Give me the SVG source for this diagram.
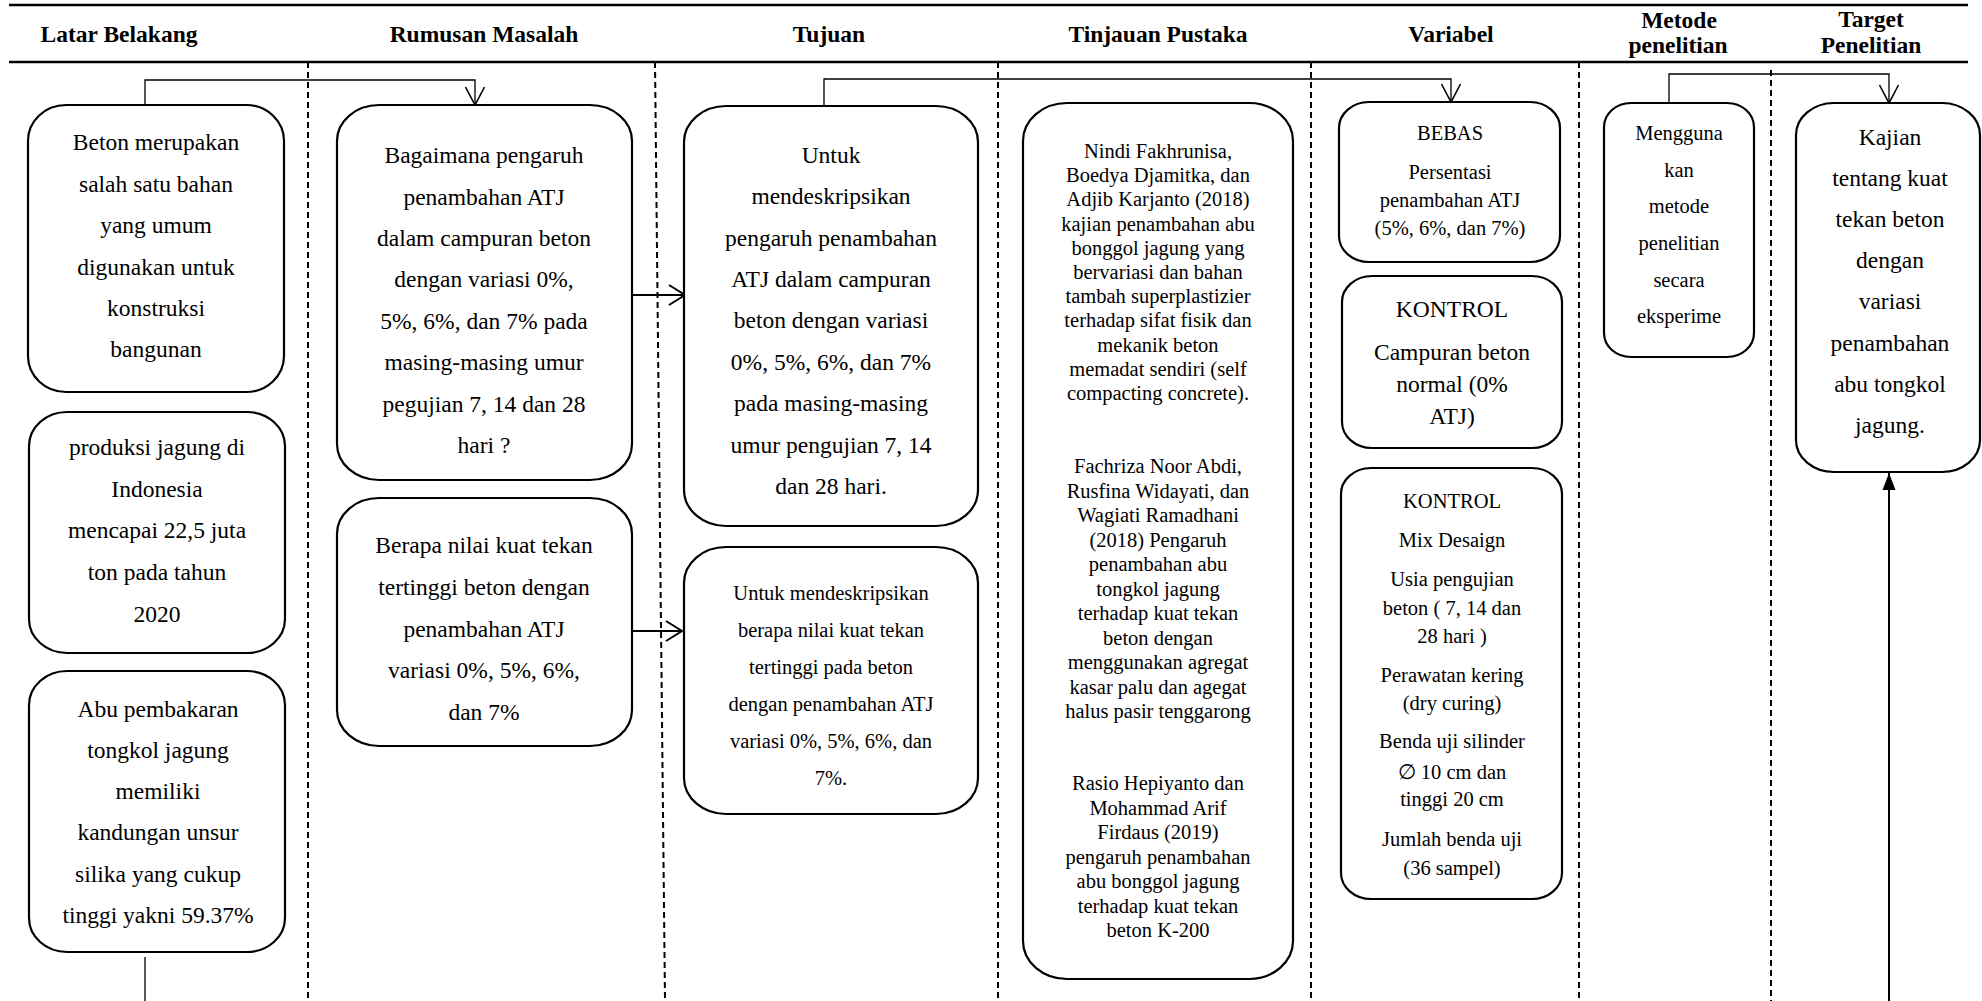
<svg xmlns="http://www.w3.org/2000/svg" width="1982" height="1001" viewBox="0 0 1982 1001">
<style>
text{font-family:"Liberation Serif","Times New Roman",serif;fill:#000;text-anchor:middle}
.h{font-size:23.5px;font-weight:bold}
.t{font-size:23.5px}
.s{font-size:20.5px}
.box{fill:#fff;stroke:#000;stroke-width:2.2}
.rule{stroke:#000;stroke-width:2.6;fill:none}
.dash{stroke:#000;stroke-width:2;stroke-dasharray:6 4;fill:none}
.thin{stroke:#000;stroke-width:1.3;fill:none}
.med{stroke:#000;stroke-width:2;fill:none}
</style>
<defs>
<marker id="vd" markerUnits="userSpaceOnUse" markerWidth="20" markerHeight="22" refX="18" refY="10" orient="auto" overflow="visible">
<path d="M0,0.5 L18,10 L0,19.5" fill="none" stroke="#000" stroke-width="1.6"/>
</marker>
<marker id="vs" markerUnits="userSpaceOnUse" markerWidth="20" markerHeight="22" refX="16" refY="10" orient="auto" overflow="visible">
<path d="M0,0 L16,10 L0,20" fill="none" stroke="#000" stroke-width="2"/>
</marker>
<marker id="fill" markerUnits="userSpaceOnUse" markerWidth="18" markerHeight="14" refX="17" refY="6.5" orient="auto" overflow="visible">
<path d="M0,0 L17,6.5 L0,13 Z" fill="#000"/>
</marker>
</defs>

<g id="header">
<line class="rule" x1="9" y1="5" x2="1968" y2="5"/>
<line class="rule" x1="9" y1="62" x2="1968" y2="62"/>
<text class="h" x="119" y="42">Latar Belakang</text>
<text class="h" x="484" y="42">Rumusan Masalah</text>
<text class="h" x="829" y="42">Tujuan</text>
<text class="h" x="1158" y="42">Tinjauan Pustaka</text>
<text class="h" x="1451" y="42">Variabel</text>
<text class="h" x="1679" y="28">Metode</text>
<text class="h" x="1678" y="53">penelitian</text>
<text class="h" x="1871" y="27">Target</text>
<text class="h" x="1871" y="53">Penelitian</text>
</g>

<g id="separators">
<line class="dash" x1="308" y1="62" x2="308" y2="1001"/>
<line class="dash" x1="655" y1="62" x2="665" y2="1001"/>
<line class="dash" x1="998" y1="62" x2="998" y2="1001"/>
<line class="dash" x1="1311" y1="62" x2="1311" y2="1001"/>
<line class="dash" x1="1579" y1="62" x2="1579" y2="1001"/>
<line class="dash" x1="1771" y1="70" x2="1771" y2="1001"/>
</g>

<g id="connectors">
<polyline class="thin" points="145,105 145,80 475,80 475,105" marker-end="url(#vd)"/>
<line class="med" x1="632" y1="295" x2="685" y2="295" marker-end="url(#vs)"/>
<line class="med" x1="632" y1="631" x2="682" y2="631" marker-end="url(#vs)"/>
<polyline class="thin" points="824,106 824,79 1451,79 1451,102" marker-end="url(#vd)"/>
<polyline class="thin" points="1669,103 1669,74 1889,74 1889,103" marker-end="url(#vd)"/>
<line class="med" x1="1889" y1="1001" x2="1889" y2="473" stroke-width="2.4" marker-end="url(#fill)"/>
<line class="thin" x1="145" y1="957" x2="145" y2="1001"/>
</g>

<g id="node-a1">
<rect class="box" x="28" y="105" width="256" height="287" rx="38" ry="36"/>
<text class="t" x="156" y="150">Beton merupakan</text>
<text class="t" x="156" y="191.5">salah satu bahan</text>
<text class="t" x="156" y="233">yang umum</text>
<text class="t" x="156" y="274.5">digunakan untuk</text>
<text class="t" x="156" y="315.5">konstruksi</text>
<text class="t" x="156" y="357">bangunan</text>
</g>

<g id="node-a2">
<rect class="box" x="29" y="412" width="256" height="241" rx="38" ry="34"/>
<text class="t" x="157" y="455">produksi jagung di</text>
<text class="t" x="157" y="497">Indonesia</text>
<text class="t" x="157" y="538">mencapai 22,5 juta</text>
<text class="t" x="157" y="580">ton pada tahun</text>
<text class="t" x="157" y="622">2020</text>
</g>

<g id="node-a3">
<rect class="box" x="29" y="671" width="256" height="281" rx="38" ry="34"/>
<text class="t" x="158" y="717">Abu pembakaran</text>
<text class="t" x="158" y="758">tongkol jagung</text>
<text class="t" x="158" y="799">memiliki</text>
<text class="t" x="158" y="840">kandungan unsur</text>
<text class="t" x="158" y="882">silika yang cukup</text>
<text class="t" x="158" y="923">tinggi yakni 59.37%</text>
</g>

<g id="node-b1">
<rect class="box" x="337" y="105" width="295" height="375" rx="42" ry="36"/>
<text class="t" x="484" y="163">Bagaimana pengaruh</text>
<text class="t" x="484" y="204.5">penambahan ATJ</text>
<text class="t" x="484" y="246">dalam campuran beton</text>
<text class="t" x="484" y="287">dengan variasi 0%,</text>
<text class="t" x="484" y="328.5">5%, 6%, dan 7% pada</text>
<text class="t" x="484" y="370">masing-masing umur</text>
<text class="t" x="484" y="411.5">pegujian 7, 14 dan 28</text>
<text class="t" x="484" y="453">hari ?</text>
</g>

<g id="node-b2">
<rect class="box" x="337" y="498" width="295" height="248" rx="42" ry="36"/>
<text class="t" x="484" y="553">Berapa nilai kuat tekan</text>
<text class="t" x="484" y="595">tertinggi beton dengan</text>
<text class="t" x="484" y="637">penambahan ATJ</text>
<text class="t" x="484" y="678">variasi 0%, 5%, 6%,</text>
<text class="t" x="484" y="720">dan 7%</text>
</g>

<g id="node-c1">
<rect class="box" x="684" y="106" width="294" height="420" rx="42" ry="36"/>
<text class="t" x="831" y="163">Untuk</text>
<text class="t" x="831" y="204">mendeskripsikan</text>
<text class="t" x="831" y="246">pengaruh penambahan</text>
<text class="t" x="831" y="287">ATJ dalam campuran</text>
<text class="t" x="831" y="328">beton dengan variasi</text>
<text class="t" x="831" y="370">0%, 5%, 6%, dan 7%</text>
<text class="t" x="831" y="411">pada masing-masing</text>
<text class="t" x="831" y="453">umur pengujian 7, 14</text>
<text class="t" x="831" y="494">dan 28 hari.</text>
</g>

<g id="node-c2">
<rect class="box" x="684" y="547" width="294" height="267" rx="42" ry="36"/>
<text class="s" x="831" y="600">Untuk mendeskripsikan</text>
<text class="s" x="831" y="637">berapa nilai kuat tekan</text>
<text class="s" x="831" y="674">tertinggi pada beton</text>
<text class="s" x="831" y="711">dengan penambahan ATJ</text>
<text class="s" x="831" y="748">variasi 0%, 5%, 6%, dan</text>
<text class="s" x="831" y="785">7%.</text>
</g>

<g id="node-d">
<rect class="box" x="1023" y="103" width="270" height="876" rx="44" ry="38"/>
<text class="s" x="1158" y="158">Nindi Fakhrunisa,</text>
<text class="s" x="1158" y="182.2">Boedya Djamitka, dan</text>
<text class="s" x="1158" y="206.4">Adjib Karjanto (2018)</text>
<text class="s" x="1158" y="230.6">kajian penambahan abu</text>
<text class="s" x="1158" y="254.8">bonggol jagung yang</text>
<text class="s" x="1158" y="279">bervariasi dan bahan</text>
<text class="s" x="1158" y="303.2">tambah superplastizier</text>
<text class="s" x="1158" y="327.4">terhadap sifat fisik dan</text>
<text class="s" x="1158" y="351.6">mekanik beton</text>
<text class="s" x="1158" y="375.8">memadat sendiri (self</text>
<text class="s" x="1158" y="400">compacting concrete).</text>
<text class="s" x="1158" y="473">Fachriza Noor Abdi,</text>
<text class="s" x="1158" y="497.5">Rusfina Widayati, dan</text>
<text class="s" x="1158" y="522">Wagiati Ramadhani</text>
<text class="s" x="1158" y="546.5">(2018) Pengaruh</text>
<text class="s" x="1158" y="571">penambahan abu</text>
<text class="s" x="1158" y="595.5">tongkol jagung</text>
<text class="s" x="1158" y="620">terhadap kuat tekan</text>
<text class="s" x="1158" y="644.5">beton dengan</text>
<text class="s" x="1158" y="669">menggunakan agregat</text>
<text class="s" x="1158" y="693.5">kasar palu dan agegat</text>
<text class="s" x="1158" y="718">halus pasir tenggarong</text>
<text class="s" x="1158" y="790">Rasio Hepiyanto dan</text>
<text class="s" x="1158" y="814.5">Mohammad Arif</text>
<text class="s" x="1158" y="839">Firdaus (2019)</text>
<text class="s" x="1158" y="863.5">pengaruh penambahan</text>
<text class="s" x="1158" y="888">abu bonggol jagung</text>
<text class="s" x="1158" y="912.5">terhadap kuat tekan</text>
<text class="s" x="1158" y="937">beton K-200</text>
</g>

<g id="node-e1">
<rect class="box" x="1339" y="102" width="221" height="160" rx="30" ry="26"/>
<text class="s" x="1450" y="140">BEBAS</text>
<text class="s" x="1450" y="179">Persentasi</text>
<text class="s" x="1450" y="207">penambahan ATJ</text>
<text class="s" x="1450" y="235">(5%, 6%, dan 7%)</text>
</g>

<g id="node-e2">
<rect class="box" x="1342" y="276" width="220" height="172" rx="30" ry="26"/>
<text class="t" x="1452" y="317">KONTROL</text>
<text class="t" x="1452" y="360">Campuran beton</text>
<text class="t" x="1452" y="392">normal (0%</text>
<text class="t" x="1452" y="424">ATJ)</text>
</g>

<g id="node-e3">
<rect class="box" x="1341" y="468" width="221" height="431" rx="30" ry="26"/>
<text class="s" x="1452" y="508">KONTROL</text>
<text class="s" x="1452" y="547">Mix Desaign</text>
<text class="s" x="1452" y="586">Usia pengujian</text>
<text class="s" x="1452" y="615">beton ( 7, 14 dan</text>
<text class="s" x="1452" y="643">28 hari )</text>
<text class="s" x="1452" y="682">Perawatan kering</text>
<text class="s" x="1452" y="710">(dry curing)</text>
<text class="s" x="1452" y="748">Benda uji silinder</text>
<text class="s" x="1452" y="779">∅ 10 cm dan</text>
<text class="s" x="1452" y="806">tinggi 20 cm</text>
<text class="s" x="1452" y="846">Jumlah benda uji</text>
<text class="s" x="1452" y="875">(36 sampel)</text>
</g>

<g id="node-f">
<rect class="box" x="1604" y="103" width="150" height="254" rx="27" ry="24"/>
<text class="s" x="1679" y="140">Mengguna</text>
<text class="s" x="1679" y="177">kan</text>
<text class="s" x="1679" y="213">metode</text>
<text class="s" x="1679" y="250">penelitian</text>
<text class="s" x="1679" y="287">secara</text>
<text class="s" x="1679" y="323">eksperime</text>
</g>

<g id="node-g">
<rect class="box" x="1796" y="103" width="184" height="369" rx="38" ry="32"/>
<text class="t" x="1890" y="145">Kajian</text>
<text class="t" x="1890" y="186">tentang kuat</text>
<text class="t" x="1890" y="227">tekan beton</text>
<text class="t" x="1890" y="268">dengan</text>
<text class="t" x="1890" y="309">variasi</text>
<text class="t" x="1890" y="351">penambahan</text>
<text class="t" x="1890" y="392">abu tongkol</text>
<text class="t" x="1890" y="433">jagung.</text>
</g>
</svg>
